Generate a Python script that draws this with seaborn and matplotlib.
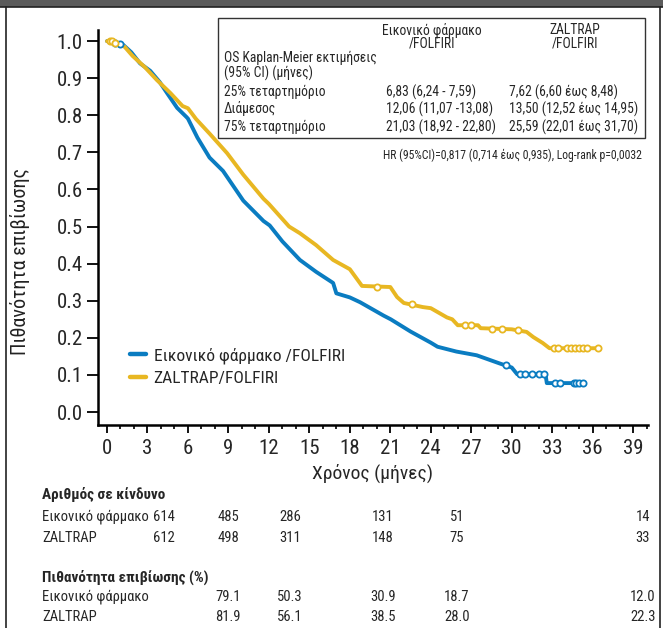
import numpy as np
import pandas as pd
import matplotlib.pyplot as plt
import seaborn as sns
from matplotlib import font_manager
from matplotlib.patches import Rectangle
from matplotlib.lines import Line2D
from matplotlib.ticker import MultipleLocator, FormatStrFormatter

# Kaplan-Meier curves (months, survival probability)
placebo_t = [0, 0.6, 1.2, 1.8, 2.45, 3.2, 3.9, 4.45, 5.2, 5.9, 6.0, 6.7, 7.6, 8.6,
             10.1, 11.6, 12.06, 13.0, 14.3, 15.5, 16.76, 17.0, 18.0, 18.76, 20.5,
             21.03, 22.5, 24.0, 24.5, 25.9, 27.4, 29.1, 30.0, 30.4, 32.5, 32.6, 35.3]
placebo_s = [1.0, 0.996, 0.99, 0.97, 0.94, 0.92, 0.89, 0.86, 0.82, 0.795, 0.791,
             0.74, 0.686, 0.65, 0.57, 0.515, 0.503, 0.46, 0.41, 0.378, 0.348, 0.32,
             0.309, 0.296, 0.26, 0.25, 0.217, 0.187, 0.176, 0.163, 0.153, 0.131,
             0.12, 0.102, 0.102, 0.078, 0.078]
zaltrap_t = [0, 0.7, 1.3, 1.9, 2.8, 3.7, 4.7, 5.6, 6.0, 6.6, 7.62, 8.9, 10.1, 11.6,
             12.0, 13.5, 14.3, 15.5, 16.76, 18.0, 18.9, 21.0, 21.5, 22.0, 23.4, 24.0,
             25.2, 25.59, 26.0, 27.5, 27.7, 30.0, 31.1, 31.6, 32.3, 32.8, 36.4]
zaltrap_s = [1.0, 0.995, 0.985, 0.96, 0.93, 0.895, 0.86, 0.825, 0.819, 0.79, 0.75,
             0.698, 0.64, 0.575, 0.561, 0.50, 0.482, 0.45, 0.41, 0.385, 0.34, 0.337,
             0.31, 0.294, 0.283, 0.28, 0.255, 0.25, 0.234, 0.234, 0.226, 0.223,
             0.216, 0.202, 0.186, 0.172, 0.172]

# censored observations (open circles)
placebo_cens_t = [0.6, 1.0, 29.6, 30.6, 31.0, 31.5, 32.0, 32.4, 33.2, 33.6, 34.6, 34.8, 35.0, 35.3]
placebo_cens_s = [0.996, 0.992, 0.128, 0.102, 0.102, 0.102, 0.102, 0.102, 0.078, 0.078,
                  0.078, 0.078, 0.078, 0.078]
zaltrap_cens_t = [0.2, 0.4, 0.6, 20.0, 22.6, 26.5, 27.0, 28.5, 29.3, 30.5, 33.1, 33.4,
                  34.1, 34.4, 34.7, 35.0, 35.3, 35.6, 36.4]
zaltrap_cens_s = [1.0, 1.0, 0.995, 0.338, 0.29, 0.234, 0.234, 0.225, 0.224, 0.22,
                  0.172, 0.172, 0.172, 0.172, 0.172, 0.172, 0.172, 0.172, 0.172]

arms = ["Εικονικό φάρμακο /FOLFIRI", "ZALTRAP/FOLFIRI"]
colors = ["#0a7cc1", "#e8b722"]

# numbers at risk and survival probabilities
risk_placebo = ["614", "485", "286", "131", "51", "14"]
risk_zaltrap = ["612", "498", "311", "148", "75", "33"]
surv_placebo = ["79.1", "50.3", "30.9", "18.7", "12.0"]
surv_zaltrap = ["81.9", "56.1", "38.5", "28.0", "22.3"]

sns.set_style("ticks")

# look for a narrow sans font, otherwise use Liberation Sans
installed = font_manager.fontManager.ttflist
names = {f.name for f in installed}
family = "Liberation Sans"
stretch = "normal"
for cand in ["Liberation Sans Narrow", "DejaVu Sans Condensed", "Roboto Condensed",
             "Noto Sans Condensed", "Open Sans Condensed"]:
    if cand in names:
        family = cand
        break
else:
    for f in installed:
        if f.stretch in ("condensed", "semi-condensed") and "Sans" in f.name \
                and "CJK" not in f.name and "Mono" not in f.name:
            family, stretch = f.name, f.stretch
            break
plt.rcParams['font.family'] = [family, 'DejaVu Sans']
plt.rcParams['font.stretch'] = stretch

W, H = 663, 628
fig = plt.figure(figsize=(W / 100, H / 100), dpi=100)
ax = fig.add_axes([98 / W, 1 - 425 / H, 550 / W, 395 / H])


def ftext(x, y, s, **kw):
    # place text by pixel position (from top-left)
    fig.text(x / W, 1 - y / H, s, **kw)


df = pd.concat([
    pd.DataFrame({"time": placebo_t, "surv": placebo_s, "arm": arms[0]}),
    pd.DataFrame({"time": zaltrap_t, "surv": zaltrap_s, "arm": arms[1]}),
])
sns.lineplot(data=df, x="time", y="surv", hue="arm", hue_order=arms,
             palette=colors, estimator=None, sort=False, lw=2.8, ax=ax)

for ct, cs, col in [(placebo_cens_t, placebo_cens_s, colors[0]),
                    (zaltrap_cens_t, zaltrap_cens_s, colors[1])]:
    sns.scatterplot(x=ct, y=cs, color=col, facecolor="white", edgecolor=col,
                    marker="o", s=20, linewidth=1.3, zorder=4, legend=False, ax=ax)

ax.set_xlim(-0.667, 40.1)
ax.set_ylim(-0.035, 1.03)
ax.set_xticks(np.arange(0, 40, 3))
ax.xaxis.set_minor_locator(MultipleLocator(1))
ax.set_yticks(np.arange(0, 1.01, 0.1))
ax.yaxis.set_major_formatter(FormatStrFormatter("%.1f"))
ax.tick_params(axis="both", which="major", labelsize=15, width=1.3, color="black", direction="out")
ax.tick_params(axis="y", length=8, pad=3)
ax.tick_params(axis="x", length=6, pad=4)
ax.tick_params(axis="x", which="minor", length=3, width=1.2, color="black", direction="out")
for side in ["top", "right"]:
    ax.spines[side].set_visible(False)
for side in ["left", "bottom"]:
    ax.spines[side].set_linewidth(1.8)
    ax.spines[side].set_color("black")
ax.set_xlabel("Χρόνος (μήνες)", fontsize=14, labelpad=4)
ax.set_ylabel("")
ftext(20, 262, "Πιθανότητα επιβίωσης", fontsize=14.5, rotation=90, ha="center",
      va="center", color="#222222")

leg = ax.legend(loc="upper left", bbox_to_anchor=(0.03, 0.237), frameon=False,
                fontsize=12.5, handlelength=0.9, handletextpad=0.45, labelspacing=0.45)
for h in leg.get_lines():
    h.set_linewidth(3.2)

# estimates box
fig.patches.append(Rectangle((218 / W, 1 - 138 / H), (645 - 218) / W, 120 / H,
                             transform=fig.transFigure, fill=False, edgecolor="#333333",
                             lw=1.0))
bs = 9.8
ftext(432, 30, "Εικονικό φάρμακο", fontsize=bs, ha="center", va="center")
ftext(432, 44, "/FOLFIRI", fontsize=bs, ha="center", va="center")
ftext(575, 30, "ZALTRAP", fontsize=bs, ha="center", va="center")
ftext(575, 44, "/FOLFIRI", fontsize=bs, ha="center", va="center")
ftext(224, 58, "OS Kaplan-Meier εκτιμήσεις", fontsize=bs, va="center")
ftext(224, 73, "(95% CI) (μήνες)", fontsize=bs, va="center")
rows = ["25% τεταρτημόριο", "Διάμεσος", "75% τεταρτημόριο"]
col1 = ["6,83 (6,24 - 7,59)", "12,06 (11,07 -13,08)", "21,03 (18,92 - 22,80)"]
col2 = ["7,62 (6,60 έως 8,48)", "13,50 (12,52 έως 14,95)", "25,59 (22,01 έως 31,70)"]
for yy, r, a, b in zip([92, 109, 127], rows, col1, col2):
    ftext(224, yy, r, fontsize=bs, va="center")
    ftext(386, yy, a, fontsize=bs, va="center")
    ftext(509, yy, b, fontsize=bs, va="center")
ftext(642, 155, "HR (95%CI)=0,817 (0,714 έως 0,935), Log-rank p=0,0032", fontsize=8.5,
      ha="right", va="center")

# risk table below the plot
ts = 10.5
ftext(42, 495, "Αριθμός σε κίνδυνο", fontsize=ts + 0.5, fontweight="bold", va="center")
ftext(42, 517, "Εικονικό φάρμακο", fontsize=ts, va="center")
ftext(42, 538, "ZALTRAP", fontsize=ts, va="center")
risk_x = [164, 228, 290, 383, 457, 643]
for xx, a, b in zip(risk_x, risk_placebo, risk_zaltrap):
    ftext(xx, 517, a, fontsize=ts, ha="center", va="center")
    ftext(xx, 538, b, fontsize=ts, ha="center", va="center")
ftext(42, 577, "Πιθανότητα επιβίωσης (%)", fontsize=ts + 0.5, fontweight="bold", va="center")
ftext(42, 597, "Εικονικό φάρμακο", fontsize=ts, va="center")
ftext(42, 617, "ZALTRAP", fontsize=ts, va="center")
for xx, a, b in zip(risk_x[1:], surv_placebo, surv_zaltrap):
    ftext(xx, 597, a, fontsize=ts, ha="center", va="center")
    ftext(xx, 617, b, fontsize=ts, ha="center", va="center")

# frame pieces of the original page
fig.patches.append(Rectangle((0, 1 - 7 / H), 1, 7 / H, transform=fig.transFigure,
                             facecolor="#5b5b5b", edgecolor="none"))
fig.lines.append(Line2D([0, 1], [1 - 7 / H, 1 - 7 / H], transform=fig.transFigure,
                        color="#222222", lw=1.2))
fig.lines.append(Line2D([6 / W, 6 / W], [0, 1 - 7 / H], transform=fig.transFigure,
                        color="#222222", lw=1.2))
fig.lines.append(Line2D([660 / W, 660 / W], [0, 1 - 7 / H], transform=fig.transFigure,
                        color="#222222", lw=1.2))

fig.savefig("out.png", dpi=100)
